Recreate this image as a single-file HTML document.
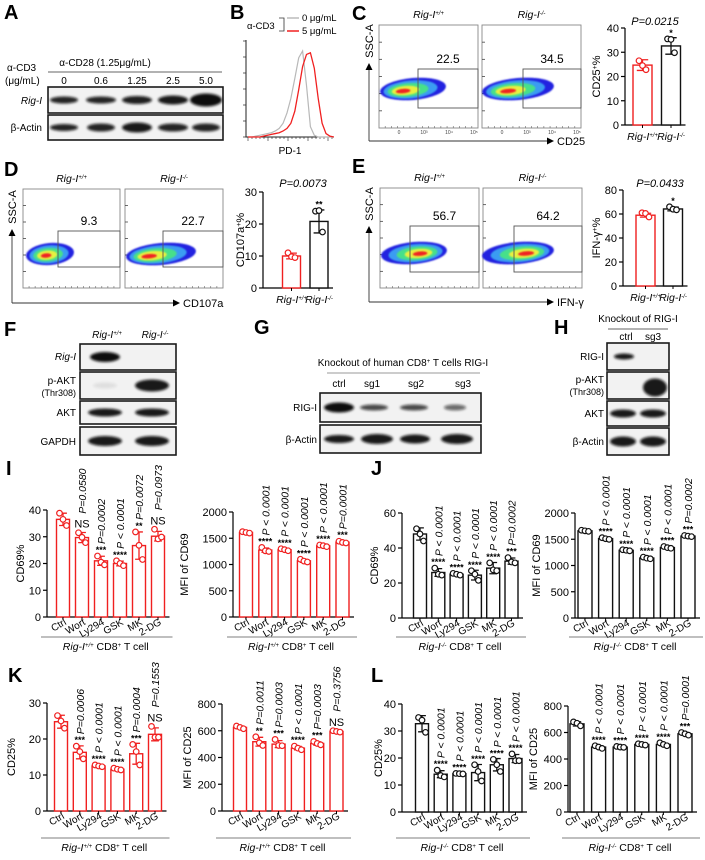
<!DOCTYPE html>
<html><head><meta charset="utf-8">
<style>
body{margin:0;background:#fff}
svg{display:block;font-family:"Liberation Sans",Arial,sans-serif}
</style></head><body>
<svg id="fig" width="705" height="860" viewBox="0 0 705 860">
<defs>
<filter id="bl" x="-50%" y="-50%" width="200%" height="200%"><feGaussianBlur stdDeviation="1.4"/></filter>
<filter id="bl2" x="-50%" y="-50%" width="200%" height="200%"><feGaussianBlur stdDeviation="0.8"/></filter>
</defs>
<g font-weight="bold" font-size="20" fill="#000">
<text x="4" y="19">A</text>
<text x="230" y="19">B</text>
<text x="352" y="20">C</text>
<text x="4" y="176">D</text>
<text x="352" y="173">E</text>
<text x="4" y="336">F</text>
<text x="254" y="334">G</text>
<text x="554" y="334">H</text>
<text x="6" y="475">I</text>
<text x="371" y="475">J</text>
<text x="8" y="682">K</text>
<text x="371" y="682">L</text>
</g>
<g font-size="10">
<text x="105" y="66" text-anchor="middle">α-CD28 (1.25μg/mL)</text>
<line x1="48" y1="72" x2="222" y2="72" stroke="#666" stroke-width="1"/>
<text x="7" y="71">α-CD3</text>
<text x="5" y="84">(μg/mL)</text>
<text x="64" y="84" text-anchor="middle">0</text>
<text x="101" y="84" text-anchor="middle">0.6</text>
<text x="137" y="84" text-anchor="middle">1.25</text>
<text x="173" y="84" text-anchor="middle">2.5</text>
<text x="206" y="84" text-anchor="middle">5.0</text>
<text x="42" y="104" text-anchor="end" font-style="italic">Rig-I</text>
<text x="42" y="131" text-anchor="end">β-Actin</text>
</g>
<g font-size="9.5">
<text x="247" y="29">α-CD3</text>
<path d="M279 18 H284 V31 H279" fill="none" stroke="#333" stroke-width="0.8"/>
<line x1="287" y1="18" x2="299" y2="18" stroke="#bbb" stroke-width="1.5"/>
<line x1="287" y1="31" x2="299" y2="31" stroke="#f02020" stroke-width="1.5"/>
<text x="302" y="21">0 μg/mL</text>
<text x="302" y="34">5 μg/mL</text>
<text x="290" y="154" text-anchor="middle" font-size="10">PD-1</text>
</g>
<g id="dyn"></g>
</svg>
<script>
const NS='http://www.w3.org/2000/svg';
const svg=document.getElementById('dyn');
function mk(tag,attrs,parent){const e=document.createElementNS(NS,tag);for(const k in attrs)e.setAttribute(k,attrs[k]);(parent||svg).appendChild(e);return e;}

/* ---------- histogram data (panel B) ---------- */
const histBins=[0,1,2,3,4,5,6,7,8,9,10,11,12,13,14,15,16,17,18,19,20,21,22];
const histGray=[0,0,1,2,3,4,5,7,10,16,28,45,68,92,100,60,12,2,0,0,0,0,0];
const histRed=[0,0,0,0,1,2,3,4,5,7,10,16,30,55,82,96,98,80,45,16,4,1,0];

/* ---------- panel I ---------- */
const catLabels=['Ctrl','Wort','Ly294','GSK','MK','2-DG'];
const iLeftTicks=[0,10,20,30,40];
const iLeftMeans=[36.5,29.7,21,20,26.7,30.2];
const iLeftSD=[2.3,1.9,1.7,0.9,5.1,1.8];
const iLeftPts=[[38.8,36.5,34.2],[31.5,29.8,27.8],[22.8,20.5,19.5],[21,20,19.2],[31.8,26.8,21.5],[32.8,29.2,29.9]];
const iLeftStars=['','NS','***','****','**','NS'];
const iLeftP=['','P=0.0580','P=0.0002','P < 0.0001','P=0.0072','P=0.0973'];
const iRightTicks=[0,500,1000,1500,2000];
const iRightMeans=[1610,1275,1280,1070,1355,1425];
const iRightSD=[12,40,22,28,16,16];
const iRightPts=[[1625,1610,1598],[1325,1260,1248],[1300,1282,1262],[1100,1065,1048],[1372,1358,1340],[1443,1420,1410]];
const iRightStars=['','****','****','****','****','***'];
const iRightP=['','P < 0.0001','P < 0.0001','P < 0.0001','P < 0.0001','P=0.0001'];
/* ---------- panel J ---------- */
const jLeftTicks=[0,20,40,60];
const jLeftMeans=[48,26,25,24.5,28.5,32.5];
const jLeftSD=[3.5,2.2,0.5,2.8,3.2,1.8];
const jLeftPts=[[51,48,44],[28.5,25,24.5],[25.5,25,24.5],[27,25,21.5],[31.5,27.5,27],[34.5,32,31.5]];
const jLeftStars=['','****','****','****','****','***'];
const jLeftP=['','P < 0.0001','P < 0.0001','P < 0.0001','P < 0.0001','P=0.0002'];
const jRightTicks=[0,500,1000,1500,2000];
const jRightMeans=[1660,1512,1290,1142,1342,1560];
const jRightSD=[10,16,10,15,16,10];
const jRightPts=[[1672,1660,1650],[1530,1510,1498],[1300,1290,1280],[1160,1140,1128],[1362,1340,1328],[1572,1560,1550]];
const jRightStars=['','****','****','****','****','***'];
const jRightP=['','P < 0.0001','P < 0.0001','P < 0.0001','P < 0.0001','P=0.0002'];
/* ---------- panel K ---------- */
const kLeftTicks=[0,10,20,30];
const kLeftMeans=[24.8,16.3,12.5,11.6,15.9,21.3];
const kLeftSD=[1.8,1.8,0.3,0.3,2.9,1.8];
const kLeftPts=[[26.5,25,23],[18,16.5,14.5],[12.8,12.5,12.3],[11.9,11.6,11.4],[18.5,16.5,12.8],[23.5,20.5,20.5]];
const kLeftStars=['','***','****','****','***','NS'];
const kLeftP=['','P=0.0006','P < 0.0001','P < 0.0001','P=0.0004','P=0.1553'];
const kRightTicks=[0,200,400,600,800];
const kRightMeans=[625,518,500,470,505,595];
const kRightSD=[10,33,26,13,13,6];
const kRightPts=[[635,625,615],[555,510,490],[535,490,488],[485,470,458],[520,505,495],[600,595,590]];
const kRightStars=['','**','***','****','***','NS'];
const kRightP=['','P=0.0011','P=0.0003','P < 0.0001','P=0.0003','P=0.3756'];
/* ---------- panel L ---------- */
const lLeftTicks=[0,10,20,30,40];
const lLeftMeans=[32.7,14,14.2,14.6,17.5,19.8];
const lLeftSD=[3,1.3,0.2,3,2.3,1.5];
const lLeftPts=[[35,34,29.5],[15.5,13.5,13],[14.3,14.2,14.1],[17.5,15,11.5],[19.5,17.5,15],[21.5,19,19]];
const lLeftStars=['','****','****','****','****','****'];
const lLeftP=['','P < 0.0001','P < 0.0001','P < 0.0001','P < 0.0001','P < 0.0001'];
const lRightTicks=[0,200,400,600,800];
const lRightMeans=[665,490,490,510,510,590];
const lRightSD=[16,10,4,6,10,10];
const lRightPts=[[680,670,650],[500,490,480],[495,490,488],[515,510,505],[522,510,500],[600,590,580]];
const lRightStars=['','****','****','****','****','***'];
const lRightP=['','P < 0.0001','P < 0.0001','P < 0.0001','P < 0.0001','P=0.0001'];
/* ---------- C/D/E summary bars ---------- */
const genoLabels=['Rig-I<tspan baseline-shift="super" font-size="6">+/+</tspan>','Rig-I<tspan baseline-shift="super" font-size="6">-/-</tspan>'];
const cTicks=[0,10,20,30,40];
const cMeans=[24.7,32.6];
const cSD=[2.2,3.4];
const cPts=[[26.5,24.5,22.8],[35.5,35.3,29.8]];
const cStars=['','*'];
const dTicks=[0,10,20,30];
const dMeans=[10,20.8];
const dSD=[0.9,3.6];
const dPts=[[11,9.8,9.5],[24,24.2,17.5]];
const dStars=['','**'];
const eTicks=[0,20,40,60,80];
const eMeans=[59,64.2];
const eSD=[1.6,1.6];
const ePts=[[61,60.5,57.5],[66,64,63.5]];
const eStars=['','*'];

const RED='#f02020', BLK='#111';

function barChart(c,ticks,means,sd,pts,stars,pv,cats){
  const g=mk('g',{});
  
  
  const max=ticks[ticks.length-1];
  const y=v=>c.y0-(v/max)*(c.y0-c.yTop);
  const x=i=>c.x0+i*c.dx;
  const n=means.length;
  const ax=mk('line',{x1:c.ax,y1:y(max),x2:c.ax,y2:c.y0,stroke:'#000','stroke-width':1.2},g);
  
  
  const bx=mk('line',{x1:c.ax,y1:c.y0,x2:x(n-1)+c.w/2+5,y2:c.y0,stroke:'#000','stroke-width':1.2},g);
  
  
  ticks.forEach(t=>{
    const tl=mk('line',{x1:c.ax-4,y1:y(t),x2:c.ax,y2:y(t),stroke:'#000','stroke-width':1.2},g);
    
    
    const tt=mk('text',{x:c.ax-6,y:y(t)+4,'text-anchor':'end','font-size':c.fs||11},g);
    
    
    tt.textContent=t;
  });
  const yl=mk('text',{x:c.ylx,y:(y(max)+c.y0)/2,'text-anchor':'middle','font-size':c.fs||11,transform:`rotate(-90 ${c.ylx} ${(y(max)+c.y0)/2})`},g);
  
  
  yl.innerHTML=c.ylabel;
  for(let i=0;i<n;i++){
    const col=c.colors?c.colors[i]:c.color;
    const b=mk('rect',{x:x(i)-c.w/2,y:y(means[i]),width:c.w,height:c.y0-y(means[i]),fill:'#fff',stroke:col,'stroke-width':1.4},g);
    
    
    const e=mk('path',{d:`M${x(i)} ${y(means[i]-sd[i])} V${y(means[i]+sd[i])} M${x(i)-c.w*0.3} ${y(means[i]+sd[i])} H${x(i)+c.w*0.3} M${x(i)-c.w*0.3} ${y(means[i]-sd[i])} H${x(i)+c.w*0.3}`,stroke:col,'stroke-width':1.3,fill:'none'},g);
    
    
    const off=[-3.5,0,3.5];
    pts[i].forEach((p,k)=>{
      const ci=mk('circle',{cx:x(i)+off[k],cy:y(p),r:2.8,fill:'#fff',stroke:col,'stroke-width':1.2},g);
      
      
    });
    const xt=mk('line',{x1:x(i),y1:c.y0,x2:x(i),y2:c.y0+3,stroke:'#000','stroke-width':1},g);
    
    
    let top=Math.min(y(means[i]+sd[i]),y(Math.max(...pts[i]))-3);
    if(stars[i]){
      const isNS=stars[i]==='NS';
      const st=mk('text',{x:x(i),y:top-(isNS?2:0),'text-anchor':'middle','font-size':isNS?11:9,'font-weight':isNS?'normal':'bold'},g);
      
      
      st.textContent=stars[i];
      top-=isNS?14:7;
    }
    if(pv&&pv[i]){
      const pt=mk('text',{x:x(i)+4,y:top-2,'font-size':10.5,'font-style':'italic',transform:`rotate(-90 ${x(i)+4} ${top-2})`},g);
      
      
      pt.textContent=pv[i];
    }
    const cl=mk('text',{'font-size':c.cfs||10},g);
    
    
    if(c.hLabels){
      cl.setAttribute('x',x(i));cl.setAttribute('y',c.y0+15);cl.setAttribute('text-anchor','middle');cl.setAttribute('font-style','italic');
      cl.innerHTML=cats[i];
    }else{
      const lx=x(i)+4,ly=c.y0+7;
      cl.setAttribute('x',lx);cl.setAttribute('y',ly);cl.setAttribute('text-anchor','end');
      cl.setAttribute('transform',`rotate(-30 ${lx} ${ly})`);
      cl.textContent=cats[i];
    }
  }
  if(c.group){
    const gl=mk('line',{x1:c.ax-6,y1:c.gy,x2:x(n-1)+c.w/2+8,y2:c.gy,stroke:'#555','stroke-width':0.8},g);
    
    
    const gt=mk('text',{x:(c.ax+x(n-1)+c.w/2)/2,y:c.gy+13,'text-anchor':'middle','font-size':10.5},g);
    
    
    gt.innerHTML=c.group;
  }
}
const gWT='<tspan font-style="italic">Rig-I</tspan><tspan baseline-shift="super" font-size="6" font-style="italic">+/+</tspan> CD8<tspan baseline-shift="super" font-size="6">+</tspan> T cell';
const gKO='<tspan font-style="italic">Rig-I</tspan><tspan baseline-shift="super" font-size="6" font-style="italic">-/-</tspan> CD8<tspan baseline-shift="super" font-size="6">+</tspan> T cell';

barChart({name:'chart-i-cd69-percent',ax:47,y0:617,yTop:510,x0:63,dx:19,w:13,color:RED,ylx:24,ylabel:'CD69%',gy:637,group:gWT},iLeftTicks,iLeftMeans,iLeftSD,iLeftPts,iLeftStars,iLeftP,catLabels);
barChart({name:'chart-i-cd69-mfi',ax:233,y0:617,yTop:512,x0:246,dx:19.3,w:13,color:RED,ylx:188,ylabel:'MFI of CD69',gy:637,group:gWT},iRightTicks,iRightMeans,iRightSD,iRightPts,iRightStars,iRightP,catLabels);
barChart({name:'chart-j-cd69-percent',ax:402,y0:618,yTop:513,x0:420,dx:18.3,w:13,color:BLK,ylx:378,ylabel:'CD69%',gy:637,group:gKO},jLeftTicks,jLeftMeans,jLeftSD,jLeftPts,jLeftStars,jLeftP,catLabels);
barChart({name:'chart-j-cd69-mfi',ax:575,y0:618,yTop:513,x0:585,dx:20.6,w:14,color:BLK,ylx:540,ylabel:'MFI of CD69',gy:637,group:gKO},jRightTicks,jRightMeans,jRightSD,jRightPts,jRightStars,jRightP,catLabels);
barChart({name:'chart-k-cd25-percent',ax:47,y0:811,yTop:703,x0:61,dx:18.8,w:13,color:RED,ylx:15,ylabel:'CD25%',gy:838,group:gWT},kLeftTicks,kLeftMeans,kLeftSD,kLeftPts,kLeftStars,kLeftP,catLabels);
barChart({name:'chart-k-cd25-mfi',ax:222,y0:811,yTop:704,x0:240,dx:19.3,w:13,color:RED,ylx:191,ylabel:'MFI of CD25',gy:838,group:gWT},kRightTicks,kRightMeans,kRightSD,kRightPts,kRightStars,kRightP,catLabels);
barChart({name:'chart-l-cd25-percent',ax:402,y0:812,yTop:704,x0:422,dx:18.7,w:13,color:BLK,ylx:382,ylabel:'CD25%',gy:838,group:gKO},lLeftTicks,lLeftMeans,lLeftSD,lLeftPts,lLeftStars,lLeftP,catLabels);
barChart({name:'chart-l-cd25-mfi',ax:568,y0:812,yTop:706,x0:577,dx:21.6,w:14,color:BLK,ylx:537,ylabel:'MFI of CD25',gy:838,group:gKO},lRightTicks,lRightMeans,lRightSD,lRightPts,lRightStars,lRightP,catLabels);

barChart({name:'chart-c-cd25',ax:625,y0:125,yTop:28,x0:642.5,dx:28.5,w:19,colors:[RED,BLK],ylx:600,ylabel:'CD25<tspan baseline-shift="super" font-size="7">+</tspan>%',hLabels:true,cfs:10.5},cTicks,cMeans,cSD,cPts,cStars,null,genoLabels);
barChart({name:'chart-d-cd107a',ax:263,y0:288,yTop:192,x0:291.5,dx:27.5,w:18,colors:[RED,BLK],ylx:244,ylabel:'CD107a<tspan baseline-shift="super" font-size="7">+</tspan>%',hLabels:true,cfs:10.5},dTicks,dMeans,dSD,dPts,dStars,null,genoLabels);
barChart({name:'chart-e-ifng',ax:623,y0:286,yTop:190,x0:645.5,dx:27.5,w:19,colors:[RED,BLK],ylx:600,ylabel:'IFN-γ<tspan baseline-shift="super" font-size="7">+</tspan>%',hLabels:true,cfs:10.5},eTicks,eMeans,eSD,ePts,eStars,null,genoLabels);

function txt(x,y,s,attrs){const t=mk('text',Object.assign({x:x,y:y},attrs||{}));t.innerHTML=s;return t;}
let t;
t=txt(655,25,'P=0.0215',{'text-anchor':'middle','font-size':11,'font-style':'italic'});


t=txt(303,187,'P=0.0073',{'text-anchor':'middle','font-size':11,'font-style':'italic'});


t=txt(660,187,'P=0.0433',{'text-anchor':'middle','font-size':11,'font-style':'italic'});



/* ---------- histogram B ---------- */
const hx=i=>248+i*3.9, hy=v=>137-v*0.86;
const hax=mk('path',{d:'M246 40 V137 H334',fill:'none',stroke:'#222','stroke-width':1});


for(let k=0;k<7;k++){const tk=mk('line',{x1:243,x2:246,y1:137-k*16,y2:137-k*16,stroke:'#222','stroke-width':0.7});}
for(let k=0;k<22;k++){const tk=mk('line',{x1:248+k*4,x2:248+k*4,y1:137,y2:k%5===0?141:139,stroke:'#222','stroke-width':0.6});}
const gp=mk('path',{d:'M'+histBins.map(b=>hx(b)+' '+hy(histGray[b])).join(' L'),fill:'none',stroke:'#b8b8b8','stroke-width':1.2});


const rp=mk('path',{d:'M'+histBins.map(b=>hx(b)+' '+hy(histRed[b])).join(' L'),fill:'none',stroke:RED,'stroke-width':1.3});



/* ---------- flow plots ---------- */
const blobCols=['#2020e0','#3a9cf2','#46e08a','#e8f040','#f02020'];
function flow(bx,by,bw,bh,gx,gy,gw,gh,num,cx,cy,rx,ry,coreDx,title,name){
  const g=mk('g',{});
  
  
  const r=mk('rect',{x:bx,y:by,width:bw,height:bh,fill:'#fff',stroke:'#888','stroke-width':0.9},g);
  
  
  for(let k=1;k<6;k++){const tk=mk('line',{x1:bx,x2:bx+3,y1:by+k*bh/6,y2:by+k*bh/6,stroke:'#444','stroke-width':0.8},g);}
  for(let k=1;k<16;k++){const tk=mk('line',{x1:bx+k*bw/16,x2:bx+k*bw/16,y1:by+bh,y2:by+bh-2,stroke:'#666','stroke-width':0.6},g);}
  const sc=[1,0.82,0.62,0.42,0.22];
  blobCols.forEach((col,k)=>{
    const dx=coreDx*(k/4);
    const e=mk('ellipse',{cx:cx+dx,cy:cy+k*0.3,rx:rx*sc[k],ry:ry*(k===4?0.2:sc[k]),fill:col,transform:`rotate(-5 ${cx} ${cy})`,filter:'url(#bl2)'},g);
    
    
  });
  const gr=mk('rect',{x:gx,y:gy,width:gw,height:gh,fill:'none',stroke:'#555','stroke-width':0.9},g);
  
  
  const nt=mk('text',{x:gx+gw/2,y:gy-6,'text-anchor':'middle','font-size':12},g);
  
  
  nt.textContent=num;
  const tt=mk('text',{x:bx+bw/2,y:by-7,'text-anchor':'middle','font-size':10.5,'font-style':'italic'},g);
  
  
  tt.innerHTML=title;
}
const wtT='Rig-I<tspan baseline-shift="super" font-size="6">+/+</tspan>', koT='Rig-I<tspan baseline-shift="super" font-size="6">-/-</tspan>';
flow(379,25,99,103,418,69,60,39,'22.5',413,89,33,11,-10,wtT,'flow-c-wt');
flow(482,25,99,103,523,69,58,39,'34.5',518,89,36,11,-10,koT,'flow-c-ko');
flow(23,189,97,99,58,231,62,36,'9.3',50,254,24,11,-4,wtT,'flow-d-wt');
flow(125,189,98,99,163,231,60,36,'22.7',161,254,35,11,-12,koT,'flow-d-ko');
flow(380,188,99,100,410,226,69,46,'56.7',414,253,33,11,6,wtT,'flow-e-wt');
flow(483,188,99,100,514,226,68,46,'64.2',518,253,36,11,8,koT,'flow-e-ko');
function arrows(x0,yTop,yB,xR,label,name){
  const a=mk('path',{d:`M${x0} ${yB} V${yTop+6} M${x0} ${yB} H${xR-6}`,stroke:'#333','stroke-width':0.9,fill:'none'});
  
  
  const h1=mk('path',{d:`M${x0-3.5} ${yTop+7} L${x0} ${yTop} L${x0+3.5} ${yTop+7}Z`,fill:'#000'});
  
  
  const h2=mk('path',{d:`M${xR-7} ${yB-3.5} L${xR} ${yB} L${xR-7} ${yB+3.5}Z`,fill:'#000'});
  
  
  const cy=yTop-22;
  const s=mk('text',{x:x0+4,y:cy,'font-size':11,transform:`rotate(-90 ${x0+4} ${cy})`,'text-anchor':'middle'});
  
  
  s.textContent='SSC-A';
  const xl=mk('text',{x:xR+3,y:yB+4,'font-size':11});
  
  
  xl.textContent=label;
}
arrows(369,63,141,554,'CD25','flow-c');
arrows(12,229,303,180,'CD107a','flow-d');
arrows(369,226,302,554,'IFN-γ','flow-e');
['0','10³','10⁴','10⁵'].forEach((s,k)=>{[379,482].forEach(b=>{const tl=mk('text',{x:b+20+k*25,y:134,'font-size':5,'text-anchor':'middle',fill:'#444'});tl.textContent=s;});});

/* ---------- western blots ---------- */
function blot(x,y,w,h,bands,name){
  const g=mk('g',{});
  
  
  const r=mk('rect',{x:x,y:y,width:w,height:h,fill:'#f2f2f2',stroke:'#1a1a1a','stroke-width':1.6},g);
  
  
  bands.forEach(b=>{
    const e=mk('ellipse',{cx:b[0],cy:y+h/2+(b[4]||0),rx:b[1],ry:b[2],fill:'#111','fill-opacity':b[3],filter:'url(#bl)'},g);
    
    
  });
}
blot(48,87,175,26,[[64,14,3.5,0.9],[101,15,3.5,0.9],[137,15,4,0.92],[173,15,4.5,0.95],[206,16,6.5,1]],'blot-a-rig-i');
blot(48,115,175,25,[[64,14,3.5,0.9],[101,14,4,0.9],[137,15,5,0.95],[173,15,4,0.9],[206,14,4,0.9]],'blot-a-actin');
blot(80,344,96,26,[[105,15,5,1]],'blot-f-rig-i');
blot(80,372,96,27,[[105,12,3,0.08],[152,17,6,0.95]],'blot-f-pakt');
blot(80,401,96,23,[[105,17,4,0.95],[152,17,4,0.95]],'blot-f-akt');
blot(80,427,96,28,[[105,17,5,0.95],[152,17,5,0.95]],'blot-f-gapdh');
blot(320,393,161,29,[[339,15,5,1],[374,14,3,0.75],[414,14,3,0.75],[455,11,3,0.6]],'blot-g-rig-i');
blot(320,425,161,28,[[339,15,4,0.95],[377,16,5,0.95],[415,15,4.5,0.95],[457,16,5,0.95]],'blot-g-actin');
blot(607,343,62,27,[[624,10,3,0.95]],'blot-h-rig-i');
blot(607,372,62,27,[[655,12,9,0.95,2]],'blot-h-pakt');
blot(607,401,62,25,[[623,13,4,0.95],[653,13,4,0.95]],'blot-h-akt');
blot(607,428,62,27,[[623,13,5,0.95],[653,13,5,0.95]],'blot-h-actin');

function lbl(x,y,s,attrs,name){const e=mk('text',Object.assign({x:x,y:y,'font-size':10},attrs||{}));e.innerHTML=s;}
lbl(76,360,'Rig-I',{'text-anchor':'end','font-style':'italic'},'f-rig-i-label');
lbl(76,384,'p-AKT',{'text-anchor':'end'},'f-pakt-label');
lbl(76,396,'(Thr308)',{'text-anchor':'end','font-size':9},'f-thr-label');
lbl(76,416,'AKT',{'text-anchor':'end'},'f-akt-label');
lbl(76,445,'GAPDH',{'text-anchor':'end'},'f-gapdh-label');
lbl(107,338,'Rig-I<tspan baseline-shift="super" font-size="6">+/+</tspan>',{'text-anchor':'middle','font-style':'italic'},'f-wt-title');
lbl(155,338,'Rig-I<tspan baseline-shift="super" font-size="6">-/-</tspan>',{'text-anchor':'middle','font-style':'italic'},'f-ko-title');
lbl(403,366,'Knockout of human CD8<tspan baseline-shift="super" font-size="6">+</tspan> T cells RIG-I',{'text-anchor':'middle'},'g-title');
const gline=mk('line',{x1:327,y1:373,x2:480,y2:373,stroke:'#999','stroke-width':1});


[['ctrl',339],['sg1',372],['sg2',416],['sg3',463]].forEach(a=>lbl(a[1],387,a[0],{'text-anchor':'middle'},'g-lane-label'));
lbl(317,411,'RIG-I',{'text-anchor':'end'},'g-rig-i-label');
lbl(317,443,'β-Actin',{'text-anchor':'end'},'g-actin-label');
lbl(638,322,'Knockout of RIG-I',{'text-anchor':'middle'},'h-title');
const hline=mk('line',{x1:608,y1:329,x2:668,y2:329,stroke:'#666','stroke-width':1});


lbl(626,340,'ctrl',{'text-anchor':'middle'},'h-lane-ctrl');
lbl(653,340,'sg3',{'text-anchor':'middle'},'h-lane-sg3');
lbl(604,360,'RIG-I',{'text-anchor':'end'},'h-rig-i-label');
lbl(604,383,'p-AKT',{'text-anchor':'end'},'h-pakt-label');
lbl(604,395,'(Thr308)',{'text-anchor':'end','font-size':9},'h-thr-label');
lbl(604,417,'AKT',{'text-anchor':'end'},'h-akt-label');
lbl(604,445,'β-Actin',{'text-anchor':'end'},'h-actin-label');
</script>
</body></html>
